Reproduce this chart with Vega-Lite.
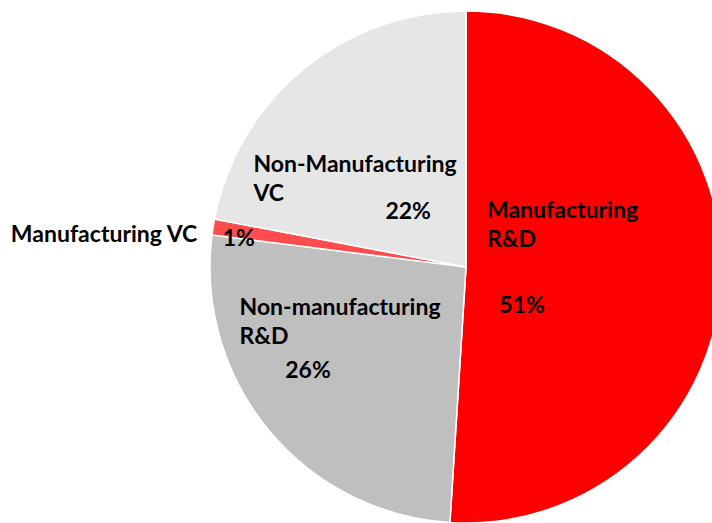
{
  "$schema": "https://vega.github.io/schema/vega-lite/v6.json",
  "width": 512,
  "height": 512,
  "autosize": {"type": "none"},
  "padding": {"left": 210, "top": 11, "right": 0, "bottom": 0},
  "background": "white",
  "config": {"view": {"stroke": null}},
  "data": {
    "values": [
      {"rank": 1, "category": "Manufacturing R&D", "label": "Manufacturing\nR&D", "value": 0.51},
      {"rank": 2, "category": "Non-manufacturing R&D", "label": "Non-manufacturing\nR&D", "value": 0.26},
      {"rank": 3, "category": "Manufacturing VC", "label": "Manufacturing VC", "value": 0.01},
      {"rank": 4, "category": "Non-Manufacturing VC", "label": "Non-Manufacturing\nVC", "value": 0.22}
    ]
  },
  "encoding": {
    "theta": {"field": "value", "type": "quantitative", "stack": true},
    "order": {"field": "rank", "type": "quantitative"}
  },
  "layer": [
    {
      "mark": {"type": "arc", "outerRadius": 256, "stroke": "white", "strokeWidth": 1.5},
      "encoding": {
        "color": {
          "field": "category",
          "type": "nominal",
          "scale": {
            "domain": ["Manufacturing R&D", "Non-manufacturing R&D", "Manufacturing VC", "Non-Manufacturing VC"],
            "range": ["#ff0000", "#bfbfbf", "#ff4d4d", "#e6e6e6"]
          },
          "legend": null
        }
      }
    },
    {
      "mark": {"type": "text", "radius": 22, "align": "left", "baseline": "middle", "dx": -1, "dy": -56.5, "font": "Lato", "fontWeight": "bold", "fontSize": 23, "lineBreak": "\n", "lineHeight": 29, "fill": "#000"},
      "encoding": {"detail": {"field": "category"}, "text": {"condition": {"test": "datum.rank === 1", "field": "label"}, "value": ""}}
    },
    {
      "mark": {"type": "text", "radius": 56, "align": "center", "baseline": "middle", "dx": 0, "dy": 37, "font": "Lato", "fontWeight": "bold", "fontSize": 23, "fill": "#000"},
      "encoding": {"detail": {"field": "category"}, "text": {"condition": {"test": "datum.rank === 1", "field": "value", "format": ".0%"}, "value": ""}}
    },
    {
      "mark": {"type": "text", "radius": 120, "align": "left", "baseline": "middle", "dx": -134, "dy": -35.5, "font": "Lato", "fontWeight": "bold", "fontSize": 23, "lineBreak": "\n", "lineHeight": 29, "fill": "#000"},
      "encoding": {"detail": {"field": "category"}, "text": {"condition": {"test": "datum.rank === 2", "field": "label"}, "value": ""}}
    },
    {
      "mark": {"type": "text", "radius": 180, "align": "center", "baseline": "middle", "dx": -19.3, "dy": -11, "font": "Lato", "fontWeight": "bold", "fontSize": 23, "fill": "#000"},
      "encoding": {"detail": {"field": "category"}, "text": {"condition": {"test": "datum.rank === 2", "field": "value", "format": ".0%"}, "value": ""}}
    },
    {
      "mark": {"type": "text", "radius": 270, "align": "right", "baseline": "middle", "dx": -2, "dy": 10, "font": "Lato", "fontWeight": "bold", "fontSize": 23, "fill": "#000"},
      "encoding": {"detail": {"field": "category"}, "text": {"condition": {"test": "datum.rank === 3", "field": "label"}, "value": ""}}
    },
    {
      "mark": {"type": "text", "radius": 230, "align": "center", "baseline": "middle", "dx": 0, "dy": 8, "font": "Lato", "fontWeight": "bold", "fontSize": 23, "fill": "#000"},
      "encoding": {"detail": {"field": "category"}, "text": {"condition": {"test": "datum.rank === 3", "field": "value", "format": ".0%"}, "value": ""}}
    },
    {
      "mark": {"type": "text", "radius": 150, "align": "left", "baseline": "middle", "dx": -117, "dy": 13.6, "font": "Lato", "fontWeight": "bold", "fontSize": 23, "lineBreak": "\n", "lineHeight": 29, "fill": "#000"},
      "encoding": {"detail": {"field": "category"}, "text": {"condition": {"test": "datum.rank === 4", "field": "label"}, "value": ""}}
    },
    {
      "mark": {"type": "text", "radius": 75, "align": "center", "baseline": "middle", "dx": -10, "dy": 3, "font": "Lato", "fontWeight": "bold", "fontSize": 23, "fill": "#000"},
      "encoding": {"detail": {"field": "category"}, "text": {"condition": {"test": "datum.rank === 4", "field": "value", "format": ".0%"}, "value": ""}}
    }
  ]
}
